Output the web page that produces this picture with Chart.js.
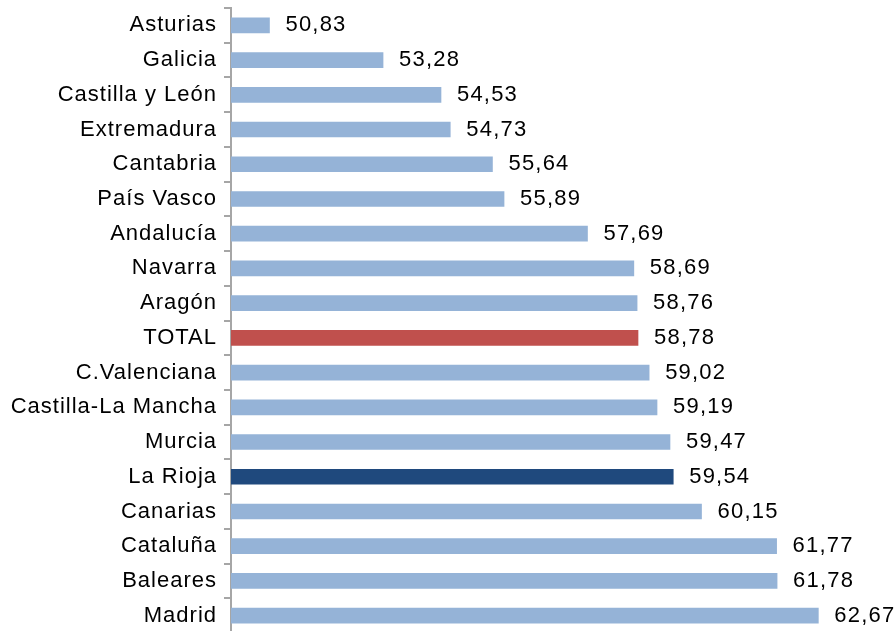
<!DOCTYPE html>
<html>
<head>
<meta charset="utf-8">
<script src="https://cdn.jsdelivr.net/npm/chart.js@4"></script>
<style>
  html, body { margin: 0; padding: 0; background: #fff; overflow: hidden; }
  #wrap { position: relative; width: 896px; height: 633px; }
</style>
</head>
<body>
<div id="wrap"><canvas id="c" width="896" height="633"></canvas></div>
<script>
// ── data ──────────────────────────────────────────────
const categories = [
  "Asturias", "Galicia", "Castilla y León", "Extremadura", "Cantabria",
  "País Vasco", "Andalucía", "Navarra", "Aragón", "TOTAL",
  "C.Valenciana", "Castilla-La Mancha", "Murcia", "La Rioja", "Canarias",
  "Cataluña", "Baleares", "Madrid"
];
const values = [
  50.83, 53.28, 54.53, 54.73, 55.64,
  55.89, 57.69, 58.69, 58.76, 58.78,
  59.02, 59.19, 59.47, 59.54, 60.15,
  61.77, 61.78, 62.67
];
const axisMin = 50, axisMax = 64;

const BLUE = "#95b3d7", RED = "#c0504d", NAVY = "#1f497d";
const FONT = "'Liberation Sans', Arial, Helvetica, sans-serif";
const barColor = c => c === "TOTAL" ? RED : c === "La Rioja" ? NAVY : BLUE;
const fmt = v => v.toFixed(2).replace(".", ",");

// wider tracking, like the original's Helvetica
const tracking = {
  id: "tracking",
  beforeDraw(chart) { chart.ctx.letterSpacing = "1px"; }
};

// ── value labels at bar end ───────────────────────────
const valueLabels = {
  id: "valueLabels",
  afterDatasetsDraw(chart) {
    const ctx = chart.ctx;
    const meta = chart.getDatasetMeta(0);
    ctx.save();
    ctx.font = "22px " + FONT;
    ctx.letterSpacing = "1.2px";
    ctx.fillStyle = "#000";
    ctx.textAlign = "left";
    ctx.textBaseline = "middle";
    meta.data.forEach((bar, i) => {
      ctx.fillText(fmt(values[i]), bar.x + 16, bar.y);
    });
    ctx.restore();
  }
};

new Chart(document.getElementById("c"), {
  type: "bar",
  data: {
    labels: categories,
    datasets: [{
      data: values,
      backgroundColor: categories.map(barColor),
      barThickness: 15,
      borderWidth: 0
    }]
  },
  options: {
    indexAxis: "y",
    responsive: false,
    animation: false,
    layout: { padding: { top: 8, right: 16, bottom: 0, left: 0 } },
    plugins: { legend: { display: false }, tooltip: { enabled: false } },
    scales: {
      x: { display: false, min: axisMin, max: axisMax },
      y: {
        afterFit: s => { s.width = 231; s.paddingTop = 0; s.paddingBottom = 0; },
        border: { display: true, color: "#a6a6a6", width: 2 },
        grid: { drawOnChartArea: false, color: "#a6a6a6", lineWidth: 2, tickLength: 7, offset: true },
        ticks: { color: "#000", padding: 7, font: { family: FONT, size: 22 } }
      }
    }
  },
  plugins: [tracking, valueLabels]
});
</script>
</body>
</html>
